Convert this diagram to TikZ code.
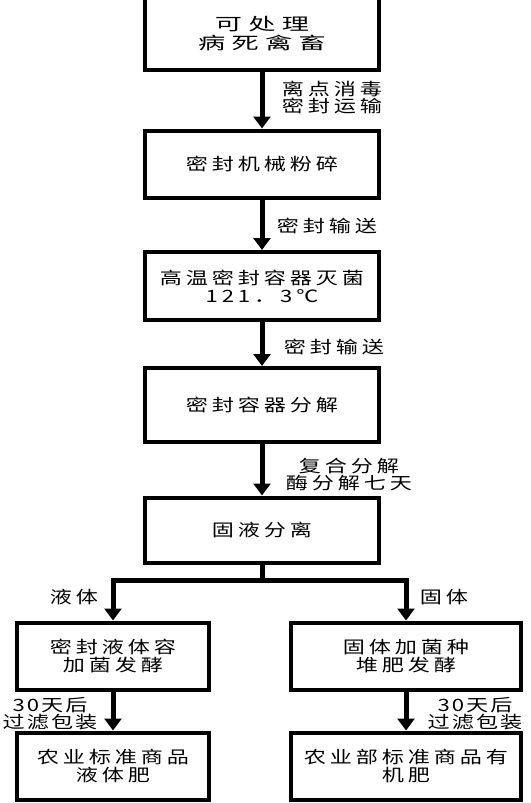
\documentclass[tikz,border=0pt]{standalone}
\usepackage{fontspec}
\newfontfamily\cjk[FakeStretch=1.3,LetterSpace=23]{Noto Sans CJK SC}
\newfontfamily\cjktight[FakeStretch=1.3,LetterSpace=12]{Noto Sans CJK SC}
\newfontfamily\cjkwide[FakeStretch=1.6,LetterSpace=37]{Noto Sans CJK SC}
\usetikzlibrary{arrows.meta}

\begin{document}
\begin{tikzpicture}[x=1pt, y=-1pt,
      box/.style={rectangle, draw=black, line width=4pt, minimum width=234pt,
                   inner sep=0pt, align=center, font=\cjk\fontsize{17}{18}\selectfont},
      sidebox/.style={box, minimum height=67pt},
      note/.style={align=center, inner sep=0pt, xshift=2pt, font=\cjk\fontsize{17}{17}\selectfont},
      arrow/.style={-{Triangle[width=17pt,length=12pt]}, line width=5pt},
      trunk/.style={line width=5pt}
    ]
    \useasboundingbox (0,0) rectangle (530,803);

    \node[box, minimum height=71pt, font=\cjkwide\fontsize{17}{19}\selectfont] (dead) at (262,34) {可处理\\病死禽畜};
    \node[box, minimum height=67pt] (crush) at (262,164) {密封机械粉碎};
    \node[box, minimum height=68pt] (steril) at (262,286) {高温密封容器灭菌\\121．3℃};
    \node[box, minimum height=74pt] (decomp) at (262,405) {密封容器分解};
    \node[box, minimum height=65pt] (sep) at (262,530) {固液分离};

    \node[sidebox, minimum width=192pt] (liqferm) at (113,656) {密封液体容\\加菌发酵};
    \node[sidebox, minimum width=230pt] (solferm) at (406,656) {固体加菌种\\堆肥发酵};
    \node[sidebox, minimum width=192pt] (liqfert) at (113,766) {农业标准商品\\液体肥};
    \node[sidebox, minimum width=230pt] (solfert) at (406,766) {农业部标准商品有\\机肥};

    \node[note] (lbla) at (330,98) {离点消毒\\密封运输};
    \node[note] (lblb) at (325,226) {密封输送};
    \node[note] (lblc) at (332,347) {密封输送};
    \node[note] (lbld) at (347,475) {复合分解\\酶分解七天};
    \node[note] (lble) at (72,597) {液体};
    \node[note] (lblf) at (442,597) {固体};
    \node[note, font=\cjktight\fontsize{17}{17}\selectfont] (lblg) at (48,714) {30天后\\过滤包装};
    \node[note, font=\cjktight\fontsize{17}{17}\selectfont] (lblh) at (473,714) {30天后\\过滤包装};

    \coordinate (fork) at (262,580);

    \draw[arrow] (dead) -- (crush);
    \draw[arrow] (crush) -- (steril);
    \draw[arrow] (steril) -- (decomp);
    \draw[arrow] (decomp) -- (sep);
    \draw[trunk] (sep.south) -- (fork);
    \draw[arrow] (fork) -| (liqferm.north);
    \draw[arrow] (fork) -| (solferm.north);
    \draw[arrow] (liqferm) -- (liqfert);
    \draw[arrow] (solferm) -- (solfert);
  \end{tikzpicture}
\end{document}
